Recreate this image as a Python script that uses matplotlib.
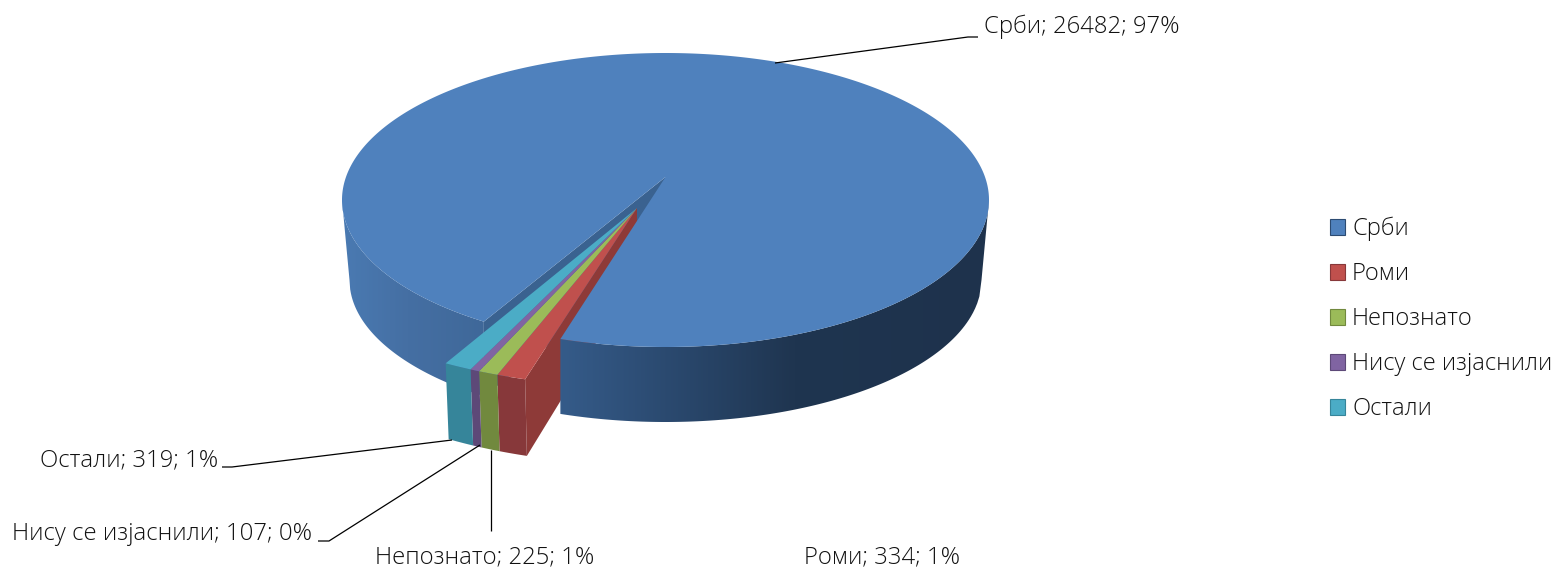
#!/usr/bin/env python3
import numpy as np
import matplotlib
matplotlib.use('Agg')
import matplotlib.pyplot as plt
from matplotlib.colors import LinearSegmentedColormap
from matplotlib.patches import Patch, Polygon

names = ['Срби', 'Роми', 'Непознато', 'Нису се изјаснили', 'Остали']
values = [26482, 334, 225, 107, 319]
percents = ['97%', '1%', '1%', '0%', '1%']
top_colors = ['#4f81bd', '#c0504d', '#9bbb59', '#8064a2', '#4bacc6']
front_colors = ['#2c4b72', '#87383a', '#71893e', '#5d4978', '#36859a']

plt.rcParams['font.family'] = ['Open Sans', 'DejaVu Sans']
plt.rcParams['font.weight'] = 'light'

fig = plt.figure(figsize=(15.55, 5.67), dpi=100)
ax = fig.add_axes([0, 0, 1, 1])
ax.set_xlim(0, 1555)
ax.set_ylim(567, 0)
ax.axis('off')

# pie geometry in pixels
cx, cy, rx, ry = 665.5, 200, 323.5, 147
bot_cy, bot_rx, bot_ry = 280, 316, 142
apex = (665.5, 177)
ray_ry = 141
start = 208.7
angles = start + np.cumsum([0] + values) / sum(values) * 360


def on_top(theta):
    # ray from the apex out to the top ellipse
    t = np.radians(theta)
    dx, dy = np.sin(t) * rx, -np.cos(t) * ray_ry
    ox, oy = apex[0] - cx, apex[1] - cy
    a = dx**2 / rx**2 + dy**2 / ry**2
    b = 2 * (ox * dx / rx**2 + oy * dy / ry**2)
    c = ox**2 / rx**2 + oy**2 / ry**2 - 1
    s = (-b + np.sqrt(b**2 - 4 * a * c)) / (2 * a)
    return np.column_stack([apex[0] + s * dx, apex[1] + s * dy])


def top_arc(x0, x1):
    x = np.linspace(x0, x1, 200)
    return np.column_stack([x, cy + ry * np.sqrt(np.clip(1 - ((x - cx) / rx)**2, 0, 1))])


def bot_arc(x0, x1):
    x = np.linspace(x0, x1, 200)
    return np.column_stack([x, bot_cy + bot_ry * np.sqrt(np.clip(1 - ((x - cx) / bot_rx)**2, 0, 1))])


wall_cmap = LinearSegmentedColormap.from_list('wall', [
    (0.00, '#4a7ab2'), (0.10, '#456fa3'), (0.22, '#3f6899'), (0.34, '#355b89'),
    (0.50, '#2b4a70'), (0.70, '#1f3550'), (1.00, '#1e324c')])


def wall(points):
    patch = Polygon(points, closed=True, fc='none', ec='none')
    ax.add_patch(patch)
    im = ax.imshow(np.linspace(0, 1, 256)[None, :], cmap=wall_cmap, aspect='auto',
                   extent=(cx - rx, cx + rx, 567, 0), zorder=1)
    im.set_clip_path(patch)


left_pt = on_top(angles[0])[0]
right_pt = on_top(angles[1])[0]

# outer wall, left of the cut
wall(np.vstack([top_arc(cx - rx, left_pt[0]), bot_arc(left_pt[0], cx - bot_rx),
                [[cx - rx, cy]]]))

# inner wall seen through the cut
ax.add_patch(Polygon([apex, left_pt, left_pt + [0, 75], (apex[0], apex[1] + 75)],
                     fc='#3a6290', ec='none', zorder=2))

# exploded small slices
ex_x, ex_y = 637, 208
ex_rx, ex_ry = 385, 179
ex_bot_y, ex_bot_rx, ex_bot_ry = 276, 379, 188
ex_shift = 1.1


def slice_top(theta):
    t = np.radians(theta + ex_shift)
    return np.column_stack([ex_x + ex_rx * np.sin(t), ex_y - ex_ry * np.cos(t)])


def slice_bot(theta):
    t = np.radians(theta + ex_shift)
    return np.column_stack([ex_x + ex_bot_rx * np.sin(t), ex_bot_y - ex_bot_ry * np.cos(t)])


# red side face
a1 = angles[1]
ax.add_patch(Polygon(np.vstack([[[ex_x, ex_y]], slice_top(a1), slice_bot(a1), [[ex_x, ex_bot_y]]]),
                     fc='#8e3a38', ec='none', zorder=3))

# outer wall, right of the cut
wall_r = np.vstack([top_arc(right_pt[0], cx + rx), bot_arc(cx + bot_rx, right_pt[0])])
wall(wall_r)
ax.images[-1].set_zorder(4)

for i in range(1, len(values)):
    th = np.linspace(angles[i], angles[i + 1], 12)
    ax.add_patch(Polygon(np.vstack([slice_top(th), slice_bot(th)[::-1]]),
                         fc=front_colors[i], ec='none', zorder=5))
    ax.add_patch(Polygon(np.vstack([[[ex_x, ex_y]], slice_top(th)]),
                         fc=top_colors[i], ec='none', zorder=6))

# big slice top
th = np.linspace(angles[0], angles[1], 720)
ax.add_patch(Polygon(np.vstack([[apex], on_top(th)]), fc=top_colors[0], ec='none', zorder=7))

# leader lines
leader_x = [[775, 968, 978], [452, 232, 222], [480, 329, 318], [491, 491]]
leader_y = [[63, 37, 37], [440, 467, 467], [445, 541, 541], [450, 531]]
for lx, ly in zip(leader_x, leader_y):
    ax.plot(lx, ly, color='black', lw=0.9, zorder=8, solid_capstyle='butt')

# data labels
label_pos = [(984, 26.5, 'left'), (804, 557, 'left'), (375, 557, 'left'),
             (312, 533.5, 'right'), (218, 460.5, 'right')]
for n, v, p, (x, y, ha) in zip(names, values, percents, label_pos):
    ax.text(x, y, f'{n}; {v}; {p}', ha=ha, va='center', fontsize=17.2, color='#111111', zorder=9)

# legend
handles = [Patch(fc=c, ec=f, lw=0.8) for c, f in zip(top_colors, front_colors)]
ax.legend(handles, names, loc='center left', bbox_to_anchor=(1330 / 1555, 1 - 319 / 567),
          frameon=False, fontsize=17.1, handlelength=0.63, handleheight=0.63, handletextpad=0.3,
          labelspacing=0.885, borderpad=0, borderaxespad=0, labelcolor='#111111')

fig.savefig('out.png', dpi=100)
